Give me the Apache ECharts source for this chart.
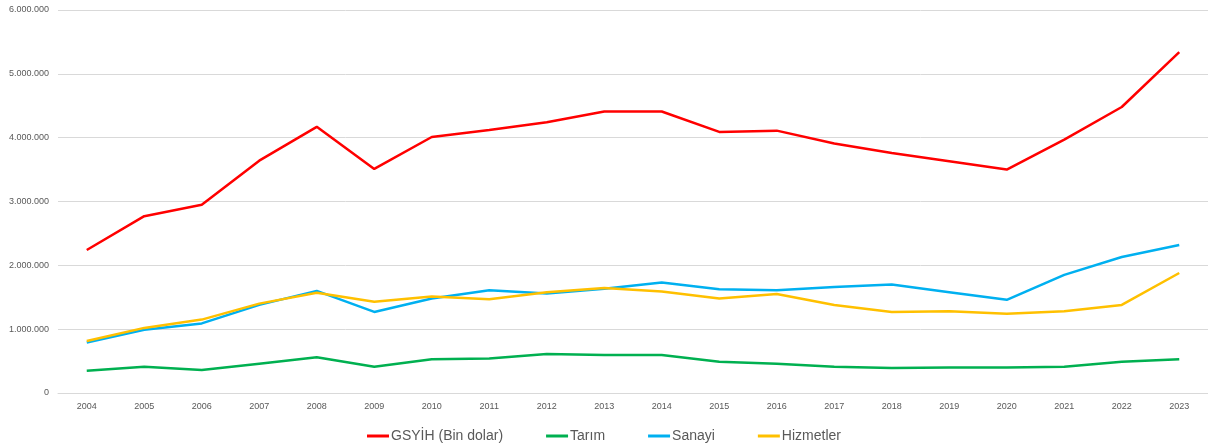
<!DOCTYPE html>
<html>
<head>
<meta charset="utf-8">
<script src="https://cdn.jsdelivr.net/npm/echarts@6/dist/echarts.min.js"></script>
<style>html,body{margin:0;padding:0;background:#fff;}#c{width:1208px;height:448px;}</style>
</head>
<body>
<div id="c"></div>
<script>
const years = ['2004','2005','2006','2007','2008','2009','2010','2011','2012','2013','2014','2015','2016','2017','2018','2019','2020','2021','2022','2023'];
const gsyih = [2240000,2770000,2950000,3640000,4170000,3510000,4010000,4120000,4240000,4410000,4410000,4090000,4110000,3910000,3760000,3630000,3500000,3970000,4480000,5340000];
const tarim = [350000,410000,360000,460000,560000,410000,530000,540000,610000,595000,595000,490000,460000,410000,390000,400000,400000,410000,490000,530000];
const sanayi = [790000,990000,1090000,1380000,1600000,1270000,1480000,1610000,1560000,1635000,1730000,1625000,1610000,1660000,1700000,1580000,1460000,1850000,2130000,2320000];
const hizmetler = [815000,1020000,1150000,1400000,1570000,1430000,1510000,1470000,1580000,1645000,1590000,1480000,1550000,1380000,1270000,1280000,1240000,1280000,1380000,1880000];
const seriesNames = ['GSYİH (Bin dolar)','Tarım','Sanayi','Hizmetler'];
const colors = ['#FF0000','#00B050','#00B0F0','#FFC000'];

function fmt(v){ return String(v).replace(/\B(?=(\d{3})+(?!\d))/g,'.'); }

const chart = echarts.init(document.getElementById('c'));
const dataSets = [gsyih, tarim, sanayi, hizmetler];
chart.setOption({
  animation:false,
  color: colors,
  textStyle:{fontFamily:'Liberation Sans, Arial, sans-serif'},
  grid:{left:58,right:0,top:10,bottom:55,containLabel:false},
  legend:{
    bottom:0, left:'center',
    icon:'rect',
    itemWidth:22, itemHeight:3, itemGap:43,
    textStyle:{color:'#595959',fontSize:14,padding:[0,0,0,-3]},
    data: seriesNames
  },
  xAxis:{
    type:'category', data:years, boundaryGap:true,
    axisLine:{show:true,lineStyle:{color:'#d9d9d9'}},
    axisTick:{show:false},
    axisLabel:{color:'#595959',fontSize:9,margin:9}
  },
  yAxis:{
    type:'value', min:0, max:6000000, interval:1000000,
    axisLine:{show:false}, axisTick:{show:false},
    axisLabel:{color:'#595959',fontSize:9,margin:9,formatter:fmt},
    splitLine:{lineStyle:{color:'#d9d9d9',width:1}}
  },
  series: seriesNames.map((n,i)=>({
    name:n, type:'line', data:dataSets[i], symbol:'none',
    lineStyle:{width:2.5,color:colors[i]}, itemStyle:{color:colors[i]}
  }))
});
</script>
</body>
</html>
